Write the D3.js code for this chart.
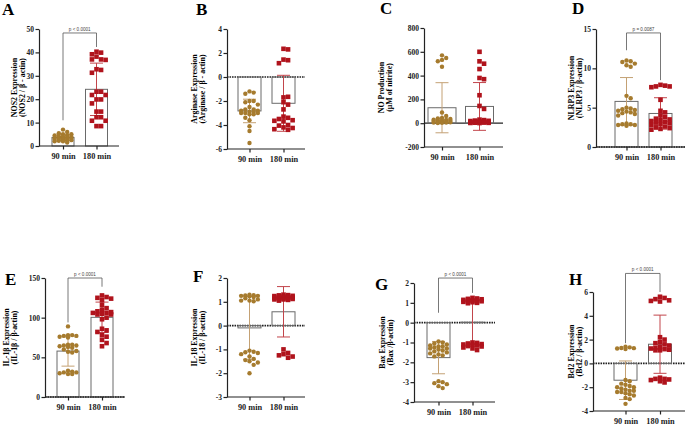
<!DOCTYPE html>
<html>
<head>
<meta charset="utf-8">
<script src="https://cdn.jsdelivr.net/npm/d3@7"></script>
<style>
  body { margin: 0; background: #fff; }
  svg { display: block; font-family: "Liberation Serif", "Times New Roman", serif; }
</style>
</head>
<body>
<div id="chart"></div>
<script>
const groups = ['90 min', '180 min'];

// values, one array per group
const nos2_90 = [7, 6, 5.5, 5, 5, 4.5, 4.5, 4.2, 4, 4, 3.7, 3.5, 3.5, 3.3, 3.2, 3, 3, 3, 2.8, 2.5, 2.5, 2.2, 2, 2, 1.5];
const nos2_180 = [40.3, 39.9, 39.2, 38.2, 37, 37, 36.8, 32.8, 32.5, 31.3, 23.2, 23.2, 21.8, 21.8, 19.9, 19.9, 18.2, 14.7, 14.7, 12.3, 12.3, 10.8, 10.8, 8.5, 8.5];

const arg_90 = [-1.2, -1.3, -1.4, -2.0, -2.0, -2.1, -2.3, -2.5, -2.7, -2.7, -2.8, -2.8, -2.9, -2.9, -3.0, -3.0, -3.0, -3.1, -3.1, -3.4, -3.6, -4.1, -4.5, -5.5];
const arg_180 = [2.35, 2.3, 1.45, 1.4, 1.15, -1.7, -1.65, -2.1, -2.3, -2.7, -3.3, -3.4, -3.5, -3.6, -3.65, -3.7, -4.0, -4.05, -4.2, -4.25, -4.35, -4.4];

const no_90 = [570, 548, 532, 520, 475, 90, 60, 45, 40, 35, 30, 28, 25, 22, 20, 18, 15, 12, 10, 8, 6, 5, 3, 2];
const no_180 = [600, 520, 500, 455, 380, 370, 235, 145, 120, 30, 26, 22, 20, 18, 15, 13, 11, 10, 8, 6, 5, 4, 3, 2, 1];

const nlrp3_90 = [11.0, 10.9, 10.8, 10.6, 10.4, 10.2, 6.5, 6.2, 5.0, 4.9, 4.8, 4.7, 4.6, 4.5, 4.4, 4.3, 4.2, 4.0, 3.0, 2.9, 2.9, 2.8, 2.8, 2.7];
const nlrp3_180 = [7.9, 7.8, 7.7, 7.7, 7.6, 6.0, 4.6, 4.4, 4.0, 3.8, 3.6, 3.5, 3.4, 3.3, 3.2, 3.1, 3.0, 2.9, 2.8, 2.6, 2.5, 2.4, 2.3, 2.2];

const il1b_90 = [89, 78, 78, 77, 77, 76, 75, 66, 66, 65, 65, 64, 63, 62, 60, 58, 57, 56, 33, 32, 31, 31, 30, 29, 29];
const il1b_180 = [128, 126, 125, 124, 122, 116, 112, 110, 108, 107, 106, 106, 105, 104, 104, 100, 98, 86, 84, 82, 78, 76, 72, 68, 64];

const il18_90 = [1.3, 1.28, 1.27, 1.25, 1.25, 1.23, 1.2, 1.15, 1.1, 1.05, 1.05, 1.02, -1.05, -1.1, -1.12, -1.15, -1.2, -1.3, -1.4, -1.45, -1.5, -1.55, -1.65, -2.0];
const il18_180 = [1.3, 1.28, 1.27, 1.25, 1.24, 1.22, 1.2, 1.2, 1.18, 1.17, 1.15, 1.15, 1.13, 1.12, 1.1, 1.1, 1.08, 1.05, -1.0, -1.15, -1.2, -1.25, -1.3, -1.35];

const bax_90 = [-0.95, -1.0, -1.05, -1.1, -1.15, -1.2, -1.2, -1.25, -1.3, -1.3, -1.35, -1.4, -1.45, -1.5, -1.55, -1.6, -1.65, -1.7, -2.95, -3.0, -3.05, -3.1, -3.2, -3.3];
const bax_180 = [1.25, 1.22, 1.2, 1.18, 1.15, 1.12, 1.1, 1.1, 1.08, 1.05, 1.03, 1.0, 0.98, -1.0, -1.02, -1.05, -1.08, -1.1, -1.12, -1.15, -1.18, -1.2, -1.25, -1.3, -1.38];

const bcl2_90 = [1.4, 1.35, 1.3, 1.28, 1.25, 1.2, -1.4, -1.5, -1.7, -1.8, -1.9, -2.0, -2.0, -2.1, -2.2, -2.3, -2.3, -2.4, -2.4, -2.5, -2.6, -2.7, -2.9, -3.0, -3.4];
const bcl2_180 = [5.6, 5.5, 5.4, 5.3, 5.25, 5.2, 2.2, 2.0, 1.8, 1.7, 1.6, 1.5, 1.4, 1.3, 1.25, 1.2, 1.15, 1.1, 1.1, -1.2, -1.3, -1.3, -1.35, -1.4, -1.5, -1.6];

// axis ticks
const ticksA = [0, 10, 20, 30, 40, 50];
const ticksB = [-6, -4, -2, 0, 2, 4];
const ticksC = [-200, 0, 200, 400, 600, 800];
const ticksD = [0, 5, 10, 15];
const ticksE = [0, 50, 100, 150];
const ticksF = [-3, -2, -1, 0, 1, 2];
const ticksG = [-4, -3, -2, -1, 0, 1, 2];
const ticksH = [-4, -2, 0, 2, 4, 6];

const panels = [
  { letter: 'A', values: [nos2_90, nos2_180], ticks: ticksA, label: ['NOS2 Expression', '(NOS2 / β - actin)'],
    p: 'p < 0.0001', bracket: [48.3, 11, 42.3], zero: null,
    ax: 39, x1: 119, top: 29, bottom: 146, cx: [63, 96.5], bw: 22, lx: [14.5, 22.5], lt: [2, 15] },
  { letter: 'B', values: [arg_90, arg_180], ticks: ticksB, label: ['Arginase Expression', '(Arginase / β - actin)'],
    p: null, zero: 'dash',
    ax: 227, x1: 305, top: 29, bottom: 149, cx: [249.5, 283.5], bw: 23, lx: [194.5, 202.5], lt: [196, 15] },
  { letter: 'C', values: [no_90, no_180], ticks: ticksC, label: ['NO Production', '(μM of nitrite)'],
    p: null, zero: 'solid',
    ax: 424, x1: 503, top: 28, bottom: 147, cx: [442, 479.5], bw: 28, lx: [381.5, 389.5], lt: [380, 14] },
  { letter: 'D', values: [nlrp3_90, nlrp3_180], ticks: ticksD, label: ['NLRP3 Expression', '(NLRP3 / β-actin)'],
    p: 'p = 0.0087', bracket: [14.5, 12.3, 8.5], zero: 'dash',
    ax: 596, x1: 685, top: 29, bottom: 147, cx: [626.5, 660.5], bw: 23, lx: [571.5, 579.5], lt: [572, 14] },
  { letter: 'E', values: [il1b_90, il1b_180], ticks: ticksE, label: ['IL-1β Expression', '(IL-1β / β-actin)'],
    p: 'p < 0.0001', bracket: [150, 94, 139], zero: 'dash',
    ax: 45, x1: 125, top: 278, bottom: 397, cx: [68, 102], bw: 22, lx: [6.5, 14.5], lt: [5, 285] },
  { letter: 'F', values: [il18_90, il18_180], ticks: ticksF, label: ['IL-18 Expression', '(IL-18 / β-actin)'],
    p: null, zero: 'dash',
    ax: 227, x1: 305, top: 278, bottom: 397, cx: [249.5, 283.5], bw: 23, lx: [194.5, 202.5], lt: [193, 282] },
  { letter: 'G', values: [bax_90, bax_180], ticks: ticksG, label: ['Bax Expression', '(Bax /β-actin)'],
    p: 'p < 0.0001', bracket: [2.25, 0.5, 1.5], zero: 'dash',
    ax: 414, x1: 495, top: 283, bottom: 402, cx: [438.5, 472.5], bw: 23, lx: [382.5, 390.5], lt: [375, 290] },
  { letter: 'H', values: [bcl2_90, bcl2_180], ticks: ticksH, label: ['Bcl2 Expression', '(Bcl2 / β-actin)'],
    p: 'p < 0.0001', bracket: [7.56, 1.7, 6.0], zero: 'dash',
    ax: 593, x1: 685, top: 292, bottom: 411, cx: [625.5, 660], bw: 23, lx: [571.5, 579.5], lt: [569, 285] }
];

const dotColor = ['#a67b2e', '#b0131c'];
const errColor = ['#c4a174', '#c2454b'];

const svg = d3.select('#chart').append('svg')
  .attr('width', 685)
  .attr('height', 425);

// deterministic swarm: dots go side by side, but never wider than the bar
function swarm(values, y, cx, d, maxOff) {
  const placed = [];
  const step = d * 0.95;
  const nMax = Math.max(1, Math.floor(maxOff / step));
  return values.map(v => {
    const py = y(v);
    let best = cx, bestScore = -1;
    for (let k = 0; k <= 2 * nMax; k++) {
      const off = k === 0 ? 0 : (k % 2 ? 1 : -1) * Math.ceil(k / 2) * step;
      const px = cx + off;
      const minD = placed.length ? d3.min(placed, q => Math.hypot(q.x - px, q.y - py)) : Infinity;
      if (minD >= d * 0.92) { best = px; break; }
      if (minD > bestScore) { bestScore = minD; best = px; }
    }
    placed.push({ x: best, y: py });
    return { x: best, y: py, v };
  });
}

panels.forEach(p => {
  const y = d3.scaleLinear()
    .domain(d3.extent(p.ticks))
    .range([p.bottom, p.top]);
  const x = d3.scaleOrdinal().domain(groups).range(p.cx);
  const g = svg.append('g');

  // panel letter
  g.append('text')
    .attr('x', p.lt[0]).attr('y', p.lt[1])
    .attr('font-size', 17).attr('font-weight', 'bold')
    .text(p.letter);

  // y label (two lines)
  const midY = (p.top + p.bottom) / 2;
  p.label.forEach((t, i) => {
    g.append('text')
      .attr('transform', `translate(${p.lx[i]},${midY}) rotate(-90)`)
      .attr('text-anchor', 'middle')
      .attr('dominant-baseline', 'central')
      .attr('font-size', 7.9).attr('font-weight', 'bold')
      .text(t);
  });

  // zero line
  if (p.zero) {
    g.append('line')
      .attr('x1', p.ax).attr('x2', p.x1)
      .attr('y1', y(0)).attr('y2', y(0))
      .attr('stroke', '#222')
      .attr('stroke-width', p.zero === 'dash' ? 1.6 : 1.2)
      .attr('stroke-dasharray', p.zero === 'dash' ? '1.6,0.9' : null);
  }

  // open bars for the means
  groups.forEach((grp, i) => {
    const m = d3.mean(p.values[i]);
    g.append('rect')
      .attr('x', x(grp) - p.bw / 2)
      .attr('width', p.bw)
      .attr('y', Math.min(y(m), y(0)))
      .attr('height', Math.max(0.5, Math.abs(y(m) - y(0))))
      .attr('fill', 'none')
      .attr('stroke', '#6a6a6a')
      .attr('stroke-width', 1);
  });

  // mean +/- SD
  groups.forEach((grp, i) => {
    const m = d3.mean(p.values[i]);
    const sd = d3.deviation(p.values[i]);
    const cx = x(grp);
    const eg = g.append('g').attr('stroke', errColor[i]).attr('stroke-width', 1);
    eg.append('line').attr('x1', cx).attr('x2', cx).attr('y1', y(m + sd)).attr('y2', y(m - sd));
    [m + sd, m - sd].forEach(v => {
      eg.append('line').attr('x1', cx - 6.5).attr('x2', cx + 6.5).attr('y1', y(v)).attr('y2', y(v));
    });
  });

  // points
  groups.forEach((grp, i) => {
    const d = i === 0 ? 4.4 : 4.8;
    const pts = swarm(p.values[i], y, x(grp), d, p.bw / 2 - 1.5);
    if (i === 0) {
      g.append('g').selectAll('circle').data(pts).join('circle')
        .attr('cx', q => q.x).attr('cy', q => q.y)
        .attr('r', 2.2)
        .attr('fill', dotColor[0]);
    } else {
      g.append('g').selectAll('rect').data(pts).join('rect')
        .attr('x', q => q.x - 2.3).attr('y', q => q.y - 2.3)
        .attr('width', 4.6).attr('height', 4.6)
        .attr('fill', dotColor[1]);
    }
  });

  // y axis
  const yAxis = d3.axisLeft(y)
    .tickValues(p.ticks)
    .tickSize(3.5)
    .tickSizeOuter(0)
    .tickPadding(1.5)
    .tickFormat(d => String(d));
  const ya = g.append('g')
    .attr('transform', `translate(${p.ax},0)`)
    .call(yAxis);
  ya.selectAll('text').attr('font-size', 7.5).attr('font-weight', 'bold')
    .attr('font-family', '"Liberation Serif", serif').attr('fill', '#222');
  ya.selectAll('line, path').attr('stroke', '#222').attr('stroke-width', 1.2);

  // x axis
  const xAxis = d3.axisBottom(x).tickSize(3.5).tickSizeOuter(0).tickPadding(4);
  const xa = g.append('g')
    .attr('transform', `translate(0,${p.bottom})`)
    .call(xAxis);
  xa.select('.domain').attr('d', `M${p.ax},0H${p.x1}`);
  xa.selectAll('text').attr('font-size', 8.3).attr('font-weight', 'bold')
    .attr('font-family', '"Liberation Serif", serif').attr('fill', '#222');
  xa.selectAll('line, path').attr('stroke', '#222').attr('stroke-width', 1.2);

  // significance bracket
  if (p.p) {
    const [top, l, r] = p.bracket;
    const xl = x(groups[0]), xr = x(groups[1]);
    g.append('path')
      .attr('d', `M${xl},${y(l)}V${y(top)}H${xr}V${y(r)}`)
      .attr('fill', 'none')
      .attr('stroke', '#555')
      .attr('stroke-width', 0.8);
    g.append('text')
      .attr('x', (xl + xr) / 2).attr('y', y(top) - 2)
      .attr('text-anchor', 'middle')
      .attr('font-family', '"Liberation Sans", Arial, sans-serif')
      .attr('font-size', 4.6).attr('fill', '#444')
      .text(p.p);
  }
});
</script>
</body>
</html>
